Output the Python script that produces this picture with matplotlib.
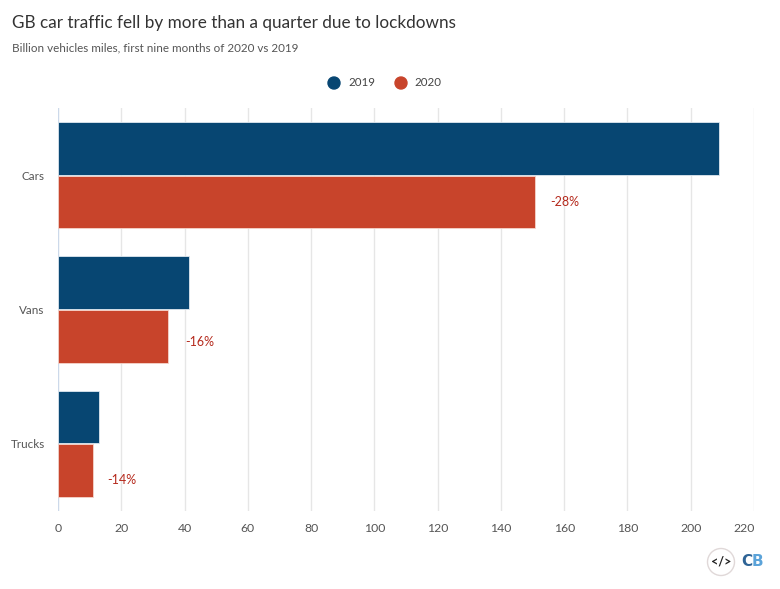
import matplotlib
matplotlib.use("Agg")
import matplotlib.pyplot as plt
from matplotlib.patches import Circle
from matplotlib.transforms import ScaledTranslation
import numpy as np

categories = ["Cars", "Vans", "Trucks"]
values_2019 = [208.9, 41.4, 13.0]
values_2020 = [150.8, 34.8, 11.1]
change_labels = ["-28%", "-16%", "-14%"]
x_ticks = list(range(0, 221, 20))

# hand-placed label nudges (pixels right, pixels down) from the end of each 2020 bar
label_nudges = [(15, 1), (17, 6), (14, 10)]

W, H = 780, 589
plt.rcParams["font.family"] = ["Lato", "DejaVu Sans"]
fig = plt.figure(figsize=(W / 100, H / 100), dpi=100, facecolor="white")
L, R, T, B = 58, 754, 108, 511
ax = fig.add_axes([L / W, 1 - B / H, (R - L) / W, (B - T) / H])

navy, red = "#074672", "#C8442B"
y = np.arange(3)
h = 0.392
ax.barh(y - h / 2 - 0.003, values_2019, height=h, color=navy, edgecolor="#dfe8f0", linewidth=0.6, zorder=3)
ax.barh(y + h / 2 + 0.003, values_2020, height=h, color=red, edgecolor="#f5d5cc", linewidth=0.6, zorder=3)
for i, (v, lab, (dx, dy)) in enumerate(zip(values_2020, change_labels, label_nudges)):
    ax.annotate(lab, (v, i + h / 2), xytext=(dx, -dy), textcoords="offset pixels",
                color="#B5291C", fontsize=9, va="center", ha="left", zorder=4)

ax.set_xlim(0, 220)
ax.set_ylim(2.5, -0.5)
ax.set_xticks(x_ticks)
ax.set_yticks(y, categories)
ax.grid(axis="x", color="#E6E6E6", linewidth=1.0, zorder=0)
for s in ax.spines.values():
    s.set_visible(False)
ax.axvline(0, color="#CCD9EA", linewidth=1.6, zorder=2)
ax.tick_params(axis="both", length=0, labelsize=8.8, labelcolor="#555555")
ax.tick_params(axis="x", pad=8.5)
ax.tick_params(axis="y", pad=9.5)
ax.tick_params(axis="y", labelsize=8.4)
# the last tick label is pulled in to stay inside the chart
last = ax.get_xticklabels()[-1]
last.set_transform(last.get_transform() + ScaledTranslation(-10 / 100, 0, fig.dpi_scale_trans))

def px(x, y):
    return x / W, 1 - y / H

fig.text(*px(12, 23), "GB car traffic fell by more than a quarter due to lockdowns",
         fontsize=12.3, color="#333333", va="center", ha="left")
fig.text(*px(12, 48), "Billion vehicles miles, first nine months of 2020 vs 2019",
         fontsize=8.35, color="#555555", va="center", ha="left")

overlay = fig.add_axes([0, 0, 1, 1], zorder=5)
overlay.set_xlim(0, W)
overlay.set_ylim(H, 0)
overlay.axis("off")
overlay.add_patch(Circle((334, 83), 6, color=navy))
overlay.add_patch(Circle((401, 83), 6, color=red))
overlay.text(348, 83, "2019", fontsize=8.3, color="#444444", va="center", ha="left")
overlay.text(414, 83, "2020", fontsize=8.3, color="#444444", va="center", ha="left")

overlay.add_patch(Circle((721, 562), 13.5, facecolor="white", edgecolor="#E0D8D8", linewidth=1))
overlay.text(721, 562, "</>", fontsize=9, fontweight="bold", color="#222222", va="center", ha="center")
overlay.text(746.5, 562, "C", fontsize=11, fontweight="bold", color="#2F6496", va="center", ha="center",
             family="Liberation Sans Narrow")
overlay.text(757.5, 562, "B", fontsize=11, fontweight="bold", color="#5BA3D9", va="center", ha="center",
             family="Liberation Sans Narrow")

fig.savefig("out.png", dpi=100, facecolor="white")
